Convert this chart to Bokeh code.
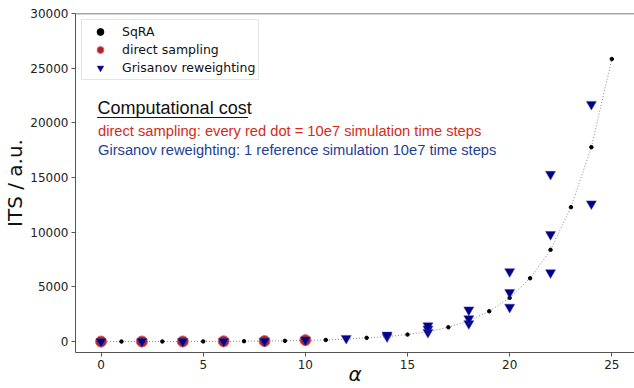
from bokeh.plotting import figure
from bokeh.models import Range1d, Label, Legend, LegendItem, FixedTicker
from bokeh.embed import file_html
from bokeh.resources import INLINE

# ---- data ----
sqra_alpha = list(range(0, 26))
sqra_its = [2, 4, 5, 8, 10, 15, 22, 32, 45, 65, 100, 150, 220, 340, 450, 640,
            900, 1310, 1900, 2770, 4000, 5790, 8390, 12290, 17780, 25840]

direct_alpha = [0, 2, 4, 6, 8, 10]
direct_its = [2, 5, 10, 22, 45, 130]

gir_alpha = [0, 2, 4, 6, 8, 10, 12, 14, 14, 16, 16, 16, 18, 18, 18,
             20, 20, 20, 22, 22, 22, 24, 24]
gir_its = [0, 5, 10, 20, 40, 150, 300, 450, 600, 850, 1150, 1450, 1650, 2100, 2900,
           3150, 4500, 6400, 6300, 9800, 15300, 12600, 21700]

x_ticks = [0, 5, 10, 15, 20, 25]
y_ticks = [0, 5000, 10000, 15000, 20000, 25000, 30000]

X0, X1 = -1.25, 26.11
p = figure(width=634, height=388, output_backend="svg", toolbar_location=None,
           x_range=Range1d(X0, X1), y_range=Range1d(-1000, 30000),
           min_border_left=0, min_border_right=0, min_border_top=13, min_border_bottom=0)

p.background_fill_color = "white"
p.border_fill_color = "white"
p.outline_line_color = None
p.xgrid.visible = False
p.ygrid.visible = False

for ax in (p.xaxis[0], p.yaxis[0]):
    ax.axis_line_color = "#555555"
    ax.major_tick_line_color = "#555555"
    ax.major_tick_out = 4
    ax.major_tick_in = 0
    ax.minor_tick_line_color = None
    ax.major_label_text_font = "DejaVu Sans"
    ax.major_label_text_font_size = "12px"
    ax.major_label_text_color = "#222222"
    ax.major_label_standoff = 3
    ax.axis_label_text_font = "DejaVu Sans"
    ax.axis_label_text_font_style = "normal"
    ax.axis_label_text_color = "#111111"

p.xaxis.ticker = FixedTicker(ticks=x_ticks)
p.yaxis.ticker = FixedTicker(ticks=y_ticks)
p.xaxis.axis_label = "α"
p.xaxis.axis_label_text_font_style = "italic"
p.xaxis.axis_label_text_font_size = "20px"
p.xaxis.axis_label_standoff = -10
p.yaxis.axis_label = "ITS / a.u."
p.yaxis.axis_label_text_font_size = "20px"
p.yaxis.axis_label_standoff = 0

# top spine
p.line(x=[X0, X1], y=[30000, 30000], line_color="#555555", line_width=1.5)

# SqRA
p.line(sqra_alpha, sqra_its, line_color="#888888", line_dash="1 2", line_width=1)
r_sqra = p.scatter(sqra_alpha, sqra_its, marker="circle", size=3.5,
                   fill_color="black", line_color="black")
r_direct = p.scatter(direct_alpha, direct_its, marker="circle", size=11,
                     fill_color="#b22222", line_color="#e06060", line_width=1)
r_gir = p.scatter(gir_alpha, gir_its, marker="inverted_triangle", size=10,
                  fill_color="#00008b", line_color="#3a3aa8", line_width=0.5)

legend = Legend(items=[LegendItem(label="SqRA", renderers=[r_sqra]),
                       LegendItem(label="direct sampling", renderers=[r_direct]),
                       LegendItem(label="Grisanov reweighting", renderers=[r_gir])],
                location="top_left")
legend.label_text_font = "DejaVu Sans"
legend.label_text_font_size = "12.5px"
legend.label_text_color = "#111111"
legend.glyph_width = 30
legend.glyph_height = 17
legend.label_height = 17
legend.label_standoff = 7
legend.spacing = 1
legend.padding = 3
legend.margin = 6
legend.border_line_color = "#cccccc"
legend.border_line_width = 1
legend.background_fill_alpha = 1
p.add_layout(legend)

p.add_layout(Label(x=-0.17, y=21380, text="Computational cost", text_font="Liberation Sans",
                   text_font_size="18px", text_color="#111111", text_baseline="alphabetic"))
p.line(x=[-0.19, 7.19], y=[20490, 20490], line_color="#111111", line_width=1.2)
p.add_layout(Label(x=-0.15, y=19220,
                   text="direct sampling: every red dot = 10e7 simulation time steps",
                   text_font="Liberation Sans", text_font_size="14.7px", text_color="#d42a1a",
                   text_baseline="alphabetic"))
p.add_layout(Label(x=-0.15, y=17520,
                   text="Girsanov reweighting: 1 reference simulation 10e7 time steps",
                   text_font="Liberation Sans", text_font_size="14.7px", text_color="#1c3f94",
                   text_baseline="alphabetic"))

open("out.html", "w").write(file_html(p, INLINE))
